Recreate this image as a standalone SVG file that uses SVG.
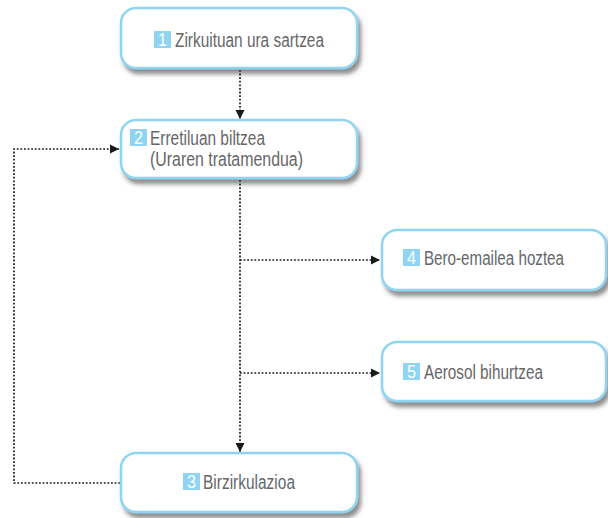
<svg xmlns="http://www.w3.org/2000/svg" width="608" height="518" viewBox="0 0 608 518">
  <defs>
    <filter id="shadow" x="-10%" y="-20%" width="130%" height="160%">
      <feDropShadow dx="3" dy="5" stdDeviation="2.2" flood-color="#444" flood-opacity="0.6"/>
    </filter>
    <marker id="arrow" markerUnits="userSpaceOnUse" markerWidth="10" markerHeight="10" refX="9" refY="5" orient="auto">
      <path d="M0,0.5 L9,5 L0,9.5 Z" fill="#1a1a1a"/>
    </marker>
    <style>
      .box { fill: #ffffff; stroke: #8fd4f2; stroke-width: 2.5; filter: url(#shadow); }
      .badge { fill: #8fd4f2; }
      .num { font-family: "Liberation Sans", Arial, sans-serif; font-size: 18px; fill: #ffffff; text-anchor: middle; }
      .label { font-family: "Liberation Sans", Arial, sans-serif; font-size: 19.5px; fill: #66676a; }
      .link { fill: none; stroke: #1a1a1a; stroke-width: 1.7; stroke-dasharray: 1.8 1.8; }
    </style>
  </defs>

  <g id="connectors">
    <path class="link" d="M240,70 V119" marker-end="url(#arrow)"/>
    <path class="link" d="M240,180 V452" marker-end="url(#arrow)"/>
    <path class="link" d="M240,260 H380" marker-end="url(#arrow)"/>
    <path class="link" d="M240,373 H380" marker-end="url(#arrow)"/>
    <path class="link" d="M120,483 H14 V149 H119" marker-end="url(#arrow)"/>
  </g>

  <g id="node1">
    <rect class="box" x="121" y="8" width="236" height="60" rx="15"/>
    <rect class="badge" x="154" y="31" width="17" height="17"/>
    <text class="num" x="162.5" y="46" textLength="9" lengthAdjust="spacingAndGlyphs">1</text>
    <text class="label" x="175" y="47" textLength="149" lengthAdjust="spacingAndGlyphs">Zirkuituan ura sartzea</text>
  </g>

  <g id="node2">
    <rect class="box" x="121" y="120" width="236" height="58" rx="15"/>
    <rect class="badge" x="130" y="129" width="17" height="17"/>
    <text class="num" x="138.5" y="144" textLength="9" lengthAdjust="spacingAndGlyphs">2</text>
    <text class="label" x="150" y="145" textLength="115" lengthAdjust="spacingAndGlyphs">Erretiluan biltzea</text>
    <text class="label" x="150" y="166" textLength="153" lengthAdjust="spacingAndGlyphs">(Uraren tratamendua)</text>
  </g>

  <g id="node3">
    <rect class="box" x="121" y="453" width="236" height="59" rx="15"/>
    <rect class="badge" x="183" y="473" width="17" height="17"/>
    <text class="num" x="191.5" y="488" textLength="9" lengthAdjust="spacingAndGlyphs">3</text>
    <text class="label" x="203" y="489" textLength="92" lengthAdjust="spacingAndGlyphs">Birzirkulazioa</text>
  </g>

  <g id="node4">
    <rect class="box" x="382" y="230" width="224" height="60" rx="15"/>
    <rect class="badge" x="403" y="249" width="17" height="17"/>
    <text class="num" x="411.5" y="264" textLength="9" lengthAdjust="spacingAndGlyphs">4</text>
    <text class="label" x="424" y="265" textLength="140" lengthAdjust="spacingAndGlyphs">Bero-emailea hoztea</text>
  </g>

  <g id="node5">
    <rect class="box" x="382" y="342" width="224" height="59" rx="15"/>
    <rect class="badge" x="403" y="363" width="17" height="17"/>
    <text class="num" x="411.5" y="378" textLength="9" lengthAdjust="spacingAndGlyphs">5</text>
    <text class="label" x="424" y="379" textLength="119" lengthAdjust="spacingAndGlyphs">Aerosol bihurtzea</text>
  </g>
</svg>
